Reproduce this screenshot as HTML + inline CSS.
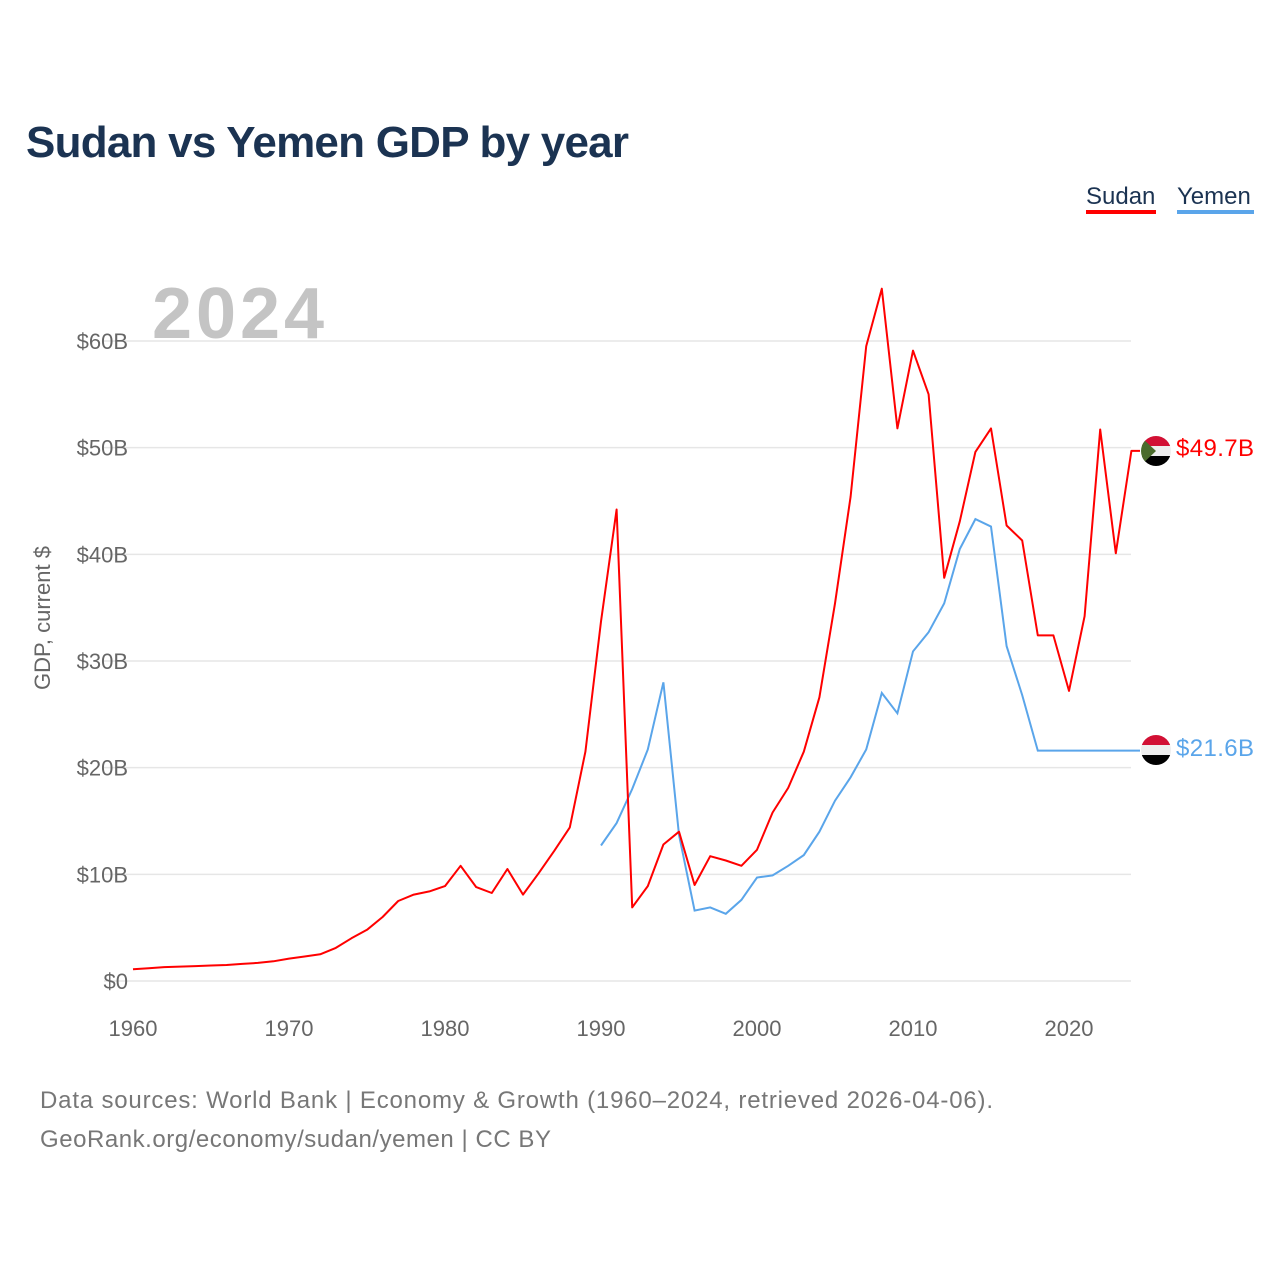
<!DOCTYPE html>
<html><head><meta charset="utf-8"><style>
body{margin:0;width:1280px;height:1280px;background:#fff;font-family:"Liberation Sans",sans-serif;overflow:hidden}
</style></head><body>
<svg width="1280" height="1280" xmlns="http://www.w3.org/2000/svg">
<text x="26" y="157" font-size="44" font-weight="bold" fill="#1b3352" textLength="603">Sudan vs Yemen GDP by year</text>
<g>
<text x="1086" y="204" font-size="24" fill="#1b3352">Sudan</text>
<rect x="1086" y="210" width="70" height="4" fill="#ff0000"/>
<text x="1177" y="204" font-size="24" fill="#1b3352">Yemen</text>
<rect x="1177" y="210" width="77" height="4" fill="#5aa5ea"/>
</g>
<text x="152" y="338" font-size="72" font-weight="bold" fill="#c4c4c4" textLength="172">2024</text>
<text transform="translate(50,618) rotate(-90)" text-anchor="middle" font-size="22" fill="#666">GDP, current $</text>
<g id="grid"></g><g id="xt"></g><g id="lines"></g>
<g>
<clipPath id="c1"><circle cx="1156" cy="451" r="15"/></clipPath>
<g clip-path="url(#c1)"><rect x="1140" y="436" width="32" height="10" fill="#d21034"/><rect x="1140" y="446" width="32" height="10" fill="#eee"/><rect x="1140" y="456" width="32" height="11" fill="#000"/><polygon points="1140,436 1156,451 1140,466" fill="#4a6b2c"/></g></g>
<g>
<clipPath id="c2"><circle cx="1156" cy="750" r="15"/></clipPath>
<g clip-path="url(#c2)"><rect x="1140" y="735" width="32" height="10" fill="#d21034"/><rect x="1140" y="745" width="32" height="10" fill="#eee"/><rect x="1140" y="755" width="32" height="11" fill="#000"/></g></g>
<text x="1176" y="456" font-size="24" fill="#ff0000" textLength="78">$49.7B</text>
<text x="1176" y="756" font-size="24" fill="#5aa5ea" textLength="78">$21.6B</text>
<text x="40" y="1108" font-size="24" fill="#777" textLength="953">Data sources: World Bank | Economy &amp; Growth (1960–2024, retrieved 2026-04-06).</text>
<text x="40" y="1147" font-size="24" fill="#777" textLength="511">GeoRank.org/economy/sudan/yemen | CC BY</text>
</svg>
<script>
const yTicks=[0,10,20,30,40,50,60];
const xTicks=[1960,1970,1980,1990,2000,2010,2020];
const sudanStart=1960;
const sudanVals=[1.1,1.2,1.3,1.35,1.4,1.45,1.5,1.6,1.7,1.85,2.1,2.3,2.5,3.1,4.0,4.8,6.0,7.5,8.1,8.4,8.9,10.8,8.8,8.25,10.5,8.1,10.1,12.2,14.4,21.5,33.7,44.2,6.9,8.9,12.8,14.0,9.0,11.7,11.3,10.8,12.3,15.8,18.1,21.5,26.6,35.4,45.4,59.5,64.9,51.8,59.1,55.0,37.8,43.1,49.6,51.8,42.7,41.3,32.4,32.4,27.2,34.2,51.7,40.1,49.7];
const yemenStart=1990;
const yemenVals=[12.7,14.8,18.0,21.7,28.0,13.7,6.6,6.9,6.3,7.6,9.7,9.9,10.8,11.8,14.0,16.9,19.1,21.7,27.0,25.1,30.9,32.7,35.4,40.5,43.3,42.6,31.4,26.8,21.6,21.6,21.6,21.6,21.6,21.6,21.6];
const NS="http://www.w3.org/2000/svg";
const xs=y=>133+(y-1960)*15.6;
const ys=v=>981-v*10.667;
function mk(t,a,p){const e=document.createElementNS(NS,t);for(const k in a)e.setAttribute(k,a[k]);if(p)document.getElementById(p).appendChild(e);return e;}
yTicks.forEach(v=>{
 const l=mk('line',{x1:104,x2:1131,y1:ys(v),y2:ys(v),stroke:'#e6e6e6','stroke-width':1.5},'grid');
 
 
 const t=mk('text',{x:128,y:ys(v)+8,'text-anchor':'end','font-size':22,fill:'#666'},'grid');
 t.textContent='$'+v+(v?'B':'');
 
 
});
xTicks.forEach(y=>{
 const t=mk('text',{x:xs(y),y:1036,'text-anchor':'middle','font-size':22,fill:'#666'},'xt');
 t.textContent=y;
 
 
});
function pts(start,vals){return vals.map((v,i)=>xs(start+i).toFixed(1)+','+ys(v).toFixed(1));}
const yp=pts(yemenStart,yemenVals);yp.push('1140,'+ys(yemenVals[yemenVals.length-1]).toFixed(1));
const yl=mk('polyline',{points:yp.join(' '),fill:'none',stroke:'#5aa5ea','stroke-width':2},'lines');


const sp=pts(sudanStart,sudanVals);sp.push('1140,'+ys(sudanVals[sudanVals.length-1]).toFixed(1));
const sl=mk('polyline',{points:sp.join(' '),fill:'none',stroke:'#ff0000','stroke-width':2,'stroke-linejoin':'round'},'lines');


</script>
</body></html>
